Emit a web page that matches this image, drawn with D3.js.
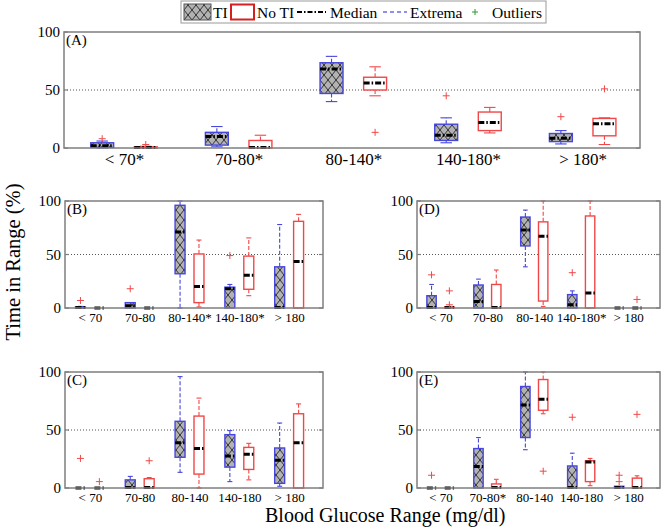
<!DOCTYPE html>
<html><head><meta charset="utf-8">
<script src="https://cdn.jsdelivr.net/npm/d3@7"></script>
<style>body{margin:0;background:#fff} svg{display:block} text{font-family:"Liberation Serif","Times New Roman",serif;fill:#000}</style>
</head><body><svg id="c" width="662" height="527"></svg>
<script>
// ---------- data ----------
const yTicks = [0, 50, 100];
const catsA = ["< 70*", "70-80*", "80-140*", "140-180*", "> 180*"];
const catsB = ["< 70", "70-80", "80-140*", "140-180*", "> 180"];
const catsC = ["< 70", "70-80", "80-140", "140-180", "> 180"];
const catsD = ["< 70", "70-80", "80-140", "140-180*", "> 180"];
const catsE = ["< 70", "70-80*", "80-140", "140-180", "> 180"];
// [lower whisker, q1, median, q3, upper whisker]
const tiA = [[0,0.5,2,4.5,6],[1,2.5,10,13.5,18.5],[40,47,68,73.5,79],[4.5,6.5,11,20.5,26],[3.5,5.5,8.5,12.5,15]];
const noA = [[0,0,0.5,1,1.5],[0,0,0.5,6.5,11],[45,50,56,61,70],[13,15,22,31,35],[3,10.5,21,25.5,26]];
const tiOutA = [[8],[],[],[45],[27]];
const noOutA = [[3],[],[13.5],[],[51]];
const tiB = [[0,0,0.5,1,1.5],[0,0,2,5,5],[0,32,71,96,100],[0,0,18,19.5,22],[0,0,0.5,38.5,78]];
const noB = [[0,0,0,0,0],[0,0,0,0,0],[1,5,20,50.5,63.5],[11.5,17.5,30.5,48.5,65.5],[0,0,43.5,81,87.5]];
const tiOutB = [[7],[18],[],[49],[]];
const noOutB = [[],[],[],[],[]];
const tiC = [[0,0,0,0,0],[0,0,0.5,7,10],[13.5,26.5,39,57.5,96],[5.5,18,27.5,46,49.5],[1.5,4,24,34.5,56]];
const noC = [[0,0,0,0,0],[0,0,0.5,8,9],[0,12,34,62,77.5],[7,16,29,35,38.5],[0,0,39,64,72.5]];
const tiOutC = [[25.5],[],[],[],[]];
const noOutC = [[5.5],[23.5],[],[],[]];
const tiD = [[0,0,0.5,11.5,22],[0,0,6,21.5,27],[38.5,58,73,85,91.5],[0,0,3,12.5,16],[0,0,0,0,0]];
const noD = [[0,0,0.5,1,1],[0,0,0.5,22,35.5],[1.5,6.5,67,80.5,100],[0,0,14,86,100],[0,0,0,0,0]];
const tiOutD = [[31],[],[],[33],[]];
const noOutD = [[16,3],[],[],[],[8]];
const tiE = [[0,0,0,0,0],[0,0,18.5,34,43.5],[33,43.5,71.5,87.5,100],[0,0,0.5,19,30],[0,0,0.5,1.5,1.5]];
const noE = [[0,0,0,0,0],[0,0,0.5,3.5,7.5],[64,67,76.5,93.5,100],[2,5.5,22.5,23.5,25.5],[0,0,0.5,8.5,10.5]];
const tiOutE = [[11],[],[],[61],[5.5,11]];
const noOutE = [[],[],[14.5],[],[63.5]];
const legendLabels = ["TI", "No TI", "Median", "Extrema", "Outliers"];

// ---------- layout ----------
const panels = [
  {lab:"(A)", cats:catsA, ti:tiA, no:noA, tiOut:tiOutA, noOut:noOutA, x0:64, x1:640, yb:148, yt:32, dom:[0.477,5.5], cf:17},
  {lab:"(B)", cats:catsB, ti:tiB, no:noB, tiOut:tiOutB, noOut:noOutB, x0:65, x1:323, yb:308, yt:201, dom:[0.5,5.68], cf:13},
  {lab:"(C)", cats:catsC, ti:tiC, no:noC, tiOut:tiOutC, noOut:noOutC, x0:65, x1:323, yb:488, yt:372, dom:[0.5,5.68], cf:13},
  {lab:"(D)", cats:catsD, ti:tiD, no:noD, tiOut:tiOutD, noOut:noOutD, x0:417, x1:660, yb:308, yt:201, dom:[0.5,5.68], cf:13},
  {lab:"(E)", cats:catsE, ti:tiE, no:noE, tiOut:tiOutE, noOut:noOutE, x0:417, x1:660, yb:488, yt:372, dom:[0.5,5.68], cf:13}
];
const BLUE = "#4646dc", RED = "#f04848", FRAME = "#7f7f7f";
const SERIF = '"Liberation Serif","Times New Roman",serif';
const svg = d3.select("#c");
const defs = svg.append("defs");
const pat = defs.append("pattern").attr("id","hatch").attr("patternUnits","userSpaceOnUse")
  .attr("width",8).attr("height",10);
pat.append("rect").attr("width",8).attr("height",10).attr("fill","#b2b2b2");
pat.append("path").attr("d","M0,0L8,10M8,0L0,10").attr("stroke","#111").attr("stroke-width",0.8);

panels.forEach(p => {
  const g = svg.append("g");
  const x = d3.scaleLinear().domain(p.dom).range([p.x0, p.x1]);
  const y = d3.scaleLinear().domain([0,100]).range([p.yb, p.yt]);
  const u = x(1) - x(0);
  const bw = 0.2*u, off = 0.19;
  g.append("line").attr("x1",p.x0).attr("x2",p.x1).attr("y1",y(50)).attr("y2",y(50))
    .attr("stroke","#555").attr("stroke-width",1).attr("stroke-dasharray","1,2");
  const ya = d3.axisLeft(y).tickValues(yTicks).tickSize(0).tickPadding(4);
  const yg = g.append("g").attr("transform",`translate(${p.x0},0)`).call(ya);
  yg.select(".domain").remove();
  yg.selectAll("text").attr("font-size",15).style("font-family",SERIF);
  const xa = d3.axisBottom(x).tickValues(d3.range(1,6)).tickFormat((d,i)=>p.cats[i]).tickSize(0).tickPadding(5);
  const xg = g.append("g").attr("transform",`translate(0,${p.yb})`).call(xa);
  xg.select(".domain").remove();
  xg.selectAll("text").attr("font-size",p.cf).style("font-family",SERIF);
  yTicks.forEach(t => {
    g.append("line").attr("x1",p.x0).attr("x2",p.x0+4).attr("y1",y(t)).attr("y2",y(t)).attr("stroke",FRAME).attr("stroke-width",1.2);
    g.append("line").attr("x1",p.x1).attr("x2",p.x1-4).attr("y1",y(t)).attr("y2",y(t)).attr("stroke",FRAME).attr("stroke-width",1.2);
  });
  const groups = [
    {data:p.ti, out:p.tiOut, dx:-off, fill:"url(#hatch)", col:BLUE},
    {data:p.no, out:p.noOut, dx:off, fill:"#fff", col:RED}
  ];
  groups.forEach(G => {
    G.data.forEach((s,i) => {
      const cx = x(i+1+G.dx);
      const [lo,q1,md,q3,hi] = s;
      [[q3,hi],[q1,lo]].forEach(([a,b]) => {
        if (Math.abs(b-a) > 0.01) {
          g.append("line").attr("x1",cx).attr("x2",cx).attr("y1",y(a)).attr("y2",y(b))
            .attr("stroke",G.col).attr("stroke-width",1.1).attr("stroke-dasharray","4,2");
          g.append("line").attr("x1",cx-bw/4).attr("x2",cx+bw/4).attr("y1",y(b)).attr("y2",y(b))
            .attr("stroke",G.col).attr("stroke-width",1.1);
        }
      });
      if (q3 > q1) {
        g.append("rect").attr("x",cx-bw/2).attr("width",bw).attr("y",y(q3)).attr("height",y(q1)-y(q3))
          .attr("fill",G.fill).attr("stroke",G.col).attr("stroke-width",1.4);
      }
      g.append("line").attr("x1",cx-bw/2).attr("x2",cx+bw/2).attr("y1",y(md)).attr("y2",y(md))
        .attr("stroke","#000").attr("stroke-width",3).attr("stroke-dasharray","6,2,1.5,2");
      G.out[i].forEach(v => {
        g.append("path").attr("d",`M${cx-3.5},${y(v)}H${cx+3.5}M${cx},${y(v)-3.5}V${y(v)+3.5}`)
          .attr("stroke",RED).attr("stroke-width",1);
      });
    });
  });
  g.append("rect").attr("x",p.x0).attr("y",p.yt).attr("width",p.x1-p.x0).attr("height",p.yb-p.yt)
    .attr("fill","none").attr("stroke",FRAME).attr("stroke-width",1.5);
  g.append("text").attr("x",p.x0+2).attr("y",p.yt+13).attr("font-size",15).text(p.lab);
});

// legend
const lg = svg.append("g");
lg.append("rect").attr("x",181).attr("y",1).attr("width",365).attr("height",22).attr("fill","#fff").attr("stroke","#999").attr("stroke-width",1);
lg.append("rect").attr("x",184).attr("y",4).attr("width",27).attr("height",16).attr("fill","url(#hatch)").attr("stroke","#555").attr("stroke-width",1);
lg.append("rect").attr("x",231).attr("y",4.5).attr("width",23).attr("height",15).attr("fill","#fff").attr("stroke","#d42020").attr("stroke-width",2);
lg.append("line").attr("x1",297).attr("x2",326).attr("y1",12).attr("y2",12).attr("stroke","#000").attr("stroke-width",2).attr("stroke-dasharray","5,2,1.5,2");
lg.append("line").attr("x1",383).attr("x2",407).attr("y1",12).attr("y2",12).attr("stroke","#2020e0").attr("stroke-width",1.2).attr("stroke-dasharray","4,3");
lg.append("path").attr("d","M472,12H478M475,9V15").attr("stroke","#2a9a2a").attr("stroke-width",1);
const lx = [213, 257, 330, 410, 492];
legendLabels.forEach((t,i)=> lg.append("text").attr("x",lx[i]).attr("y",18).attr("font-size",15.5).text(t));

// axis titles
svg.append("text").attr("transform","translate(20,262) rotate(-90)").attr("text-anchor","middle").attr("font-size",20.5).text("Time in Range (%)");
svg.append("text").attr("x",265).attr("y",522).attr("font-size",20).text("Blood Glucose Range (mg/dl)");
</script></body></html>
